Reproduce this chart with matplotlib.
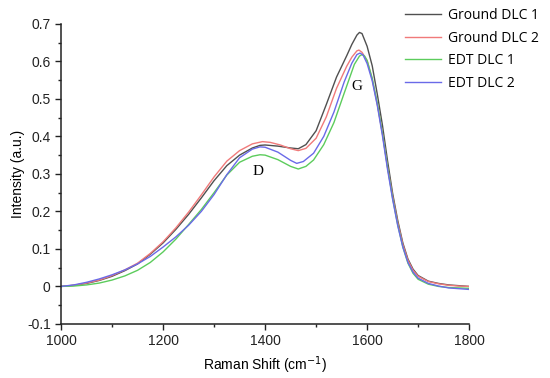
import matplotlib
matplotlib.use('Agg')
import matplotlib.pyplot as plt
from matplotlib.ticker import MultipleLocator

plt.rcParams['font.family'] = ['Liberation Sans', 'DejaVu Sans']

# Raman shift (cm^-1) and intensity readings for each spectrum
shift_g1 = [1000, 1025, 1050, 1075, 1100, 1125, 1150, 1175, 1200, 1225, 1250, 1275, 1300, 1325,
            1350, 1375, 1390, 1400, 1425, 1450, 1465, 1480, 1500, 1520, 1540, 1560, 1570, 1580,
            1585, 1590, 1600, 1610, 1620, 1630, 1640, 1650, 1660, 1670, 1680, 1690, 1700, 1720,
            1740, 1760, 1780, 1800]
ground_dlc1 = [0.0, 0.003, 0.008, 0.016, 0.027, 0.042, 0.060, 0.086, 0.116, 0.152, 0.192, 0.236,
               0.282, 0.322, 0.350, 0.369, 0.376, 0.377, 0.374, 0.369, 0.367, 0.378, 0.415, 0.485,
               0.558, 0.615, 0.645, 0.670, 0.677, 0.674, 0.640, 0.588, 0.512, 0.430, 0.335, 0.248,
               0.176, 0.116, 0.073, 0.046, 0.029, 0.014, 0.008, 0.004, 0.002, 0.0]

shift_g2 = [1000, 1025, 1050, 1075, 1100, 1125, 1150, 1175, 1200, 1225, 1250, 1275, 1300, 1325,
            1350, 1375, 1395, 1410, 1430, 1450, 1465, 1480, 1500, 1520, 1540, 1560, 1570, 1580,
            1584, 1590, 1600, 1610, 1620, 1630, 1640, 1650, 1660, 1670, 1680, 1690, 1700, 1720,
            1740, 1760, 1780, 1800]
ground_dlc2 = [0.0, 0.003, 0.009, 0.017, 0.029, 0.044, 0.062, 0.088, 0.119, 0.156, 0.198, 0.244,
               0.292, 0.334, 0.362, 0.380, 0.386, 0.384, 0.377, 0.367, 0.362, 0.368, 0.395, 0.452,
               0.528, 0.587, 0.611, 0.628, 0.630, 0.624, 0.602, 0.552, 0.485, 0.408, 0.318, 0.240,
               0.170, 0.112, 0.070, 0.043, 0.027, 0.013, 0.007, 0.003, 0.001, 0.0]

shift_e1 = [1000, 1025, 1050, 1075, 1100, 1125, 1150, 1175, 1200, 1225, 1250, 1275, 1300, 1325,
            1350, 1375, 1390, 1400, 1425, 1450, 1465, 1480, 1495, 1515, 1535, 1555, 1575, 1585,
            1590, 1595, 1600, 1610, 1620, 1630, 1640, 1650, 1660, 1670, 1680, 1690, 1700, 1720,
            1740, 1760, 1780, 1800]
edt_dlc1 = [0.0, 0.001, 0.004, 0.009, 0.017, 0.028, 0.043, 0.064, 0.092, 0.126, 0.165, 0.205,
            0.250, 0.297, 0.331, 0.347, 0.351, 0.350, 0.338, 0.320, 0.313, 0.320, 0.337, 0.378,
            0.437, 0.515, 0.592, 0.614, 0.618, 0.614, 0.602, 0.555, 0.488, 0.408, 0.318, 0.235,
            0.164, 0.105, 0.062, 0.035, 0.019, 0.006, 0.0, -0.003, -0.004, -0.005]

shift_e2 = [1000, 1025, 1050, 1075, 1100, 1125, 1150, 1175, 1200, 1225, 1250, 1275, 1300, 1325,
            1350, 1375, 1390, 1400, 1425, 1450, 1462, 1475, 1495, 1515, 1535, 1555, 1570, 1580,
            1586, 1592, 1600, 1610, 1620, 1630, 1640, 1650, 1660, 1670, 1680, 1690, 1700, 1720,
            1740, 1760, 1780, 1800]
edt_dlc2 = [0.0, 0.004, 0.011, 0.020, 0.031, 0.044, 0.060, 0.080, 0.105, 0.132, 0.163, 0.200,
            0.245, 0.298, 0.343, 0.366, 0.372, 0.371, 0.358, 0.336, 0.328, 0.333, 0.355, 0.400,
            0.465, 0.545, 0.595, 0.618, 0.622, 0.617, 0.594, 0.548, 0.482, 0.402, 0.312, 0.232,
            0.162, 0.105, 0.064, 0.038, 0.022, 0.008, 0.001, -0.004, -0.006, -0.008]

series_labels = ['Ground DLC 1', 'Ground DLC 2', 'EDT DLC 1', 'EDT DLC 2']
colors = ['#505050', '#f07a7a', '#5ccc5c', '#6a6ae8']

x_ticks = [1000, 1200, 1400, 1600, 1800]
y_ticks = [-0.1, 0, 0.1, 0.2, 0.3, 0.4, 0.5, 0.6, 0.7]
y_ticklabels = ['-0.1', '0', '0.1', '0.2', '0.3', '0.4', '0.5', '0.6', '0.7']

fig = plt.figure(figsize=(5.5, 3.78), dpi=100)
ax = fig.add_axes([0.111, 0.143, 0.742, 0.794])

data = [(shift_g1, ground_dlc1), (shift_g2, ground_dlc2), (shift_e1, edt_dlc1), (shift_e2, edt_dlc2)]
for (xs, ys), lab, c in zip(data, series_labels, colors):
    ax.plot(xs, ys, color=c, lw=1.0, label=lab)

ax.set_xlim(1000, 1800)
ax.set_ylim(-0.1, 0.7)
ax.set_xticks(x_ticks)
ax.set_yticks(y_ticks)
ax.set_yticklabels(y_ticklabels)
ax.xaxis.set_minor_locator(MultipleLocator(100))
ax.yaxis.set_minor_locator(MultipleLocator(0.05))
ax.tick_params(which='major', direction='out', length=4, width=1, labelsize=10, colors='#222222')
ax.tick_params(which='minor', direction='out', length=2.5, width=1, colors='#222222')
for side in ['top', 'right']:
    ax.spines[side].set_visible(False)
for side in ['left', 'bottom']:
    ax.spines[side].set_linewidth(1.1)
    ax.spines[side].set_color('#222222')

ax.set_xlabel('Raman Shift (cm$^{-1}$)', fontsize=10, labelpad=4)
ax.set_ylabel('Intensity (a.u.)', fontsize=10, labelpad=1)

# peak labels
ax.text(1387, 0.306, 'D', family='Liberation Serif', fontsize=11, ha='center', va='center')
ax.text(1579, 0.533, 'G', family='Liberation Serif', fontsize=11, ha='center', va='center')

leg = fig.legend(loc='upper left', bbox_to_anchor=(0.714, 1.012), frameon=False,
                 handlelength=2.6, handletextpad=0.5, labelspacing=0.55,
                 prop={'family': 'Open Sans', 'size': 10})

fig.savefig('out.png', dpi=100)
